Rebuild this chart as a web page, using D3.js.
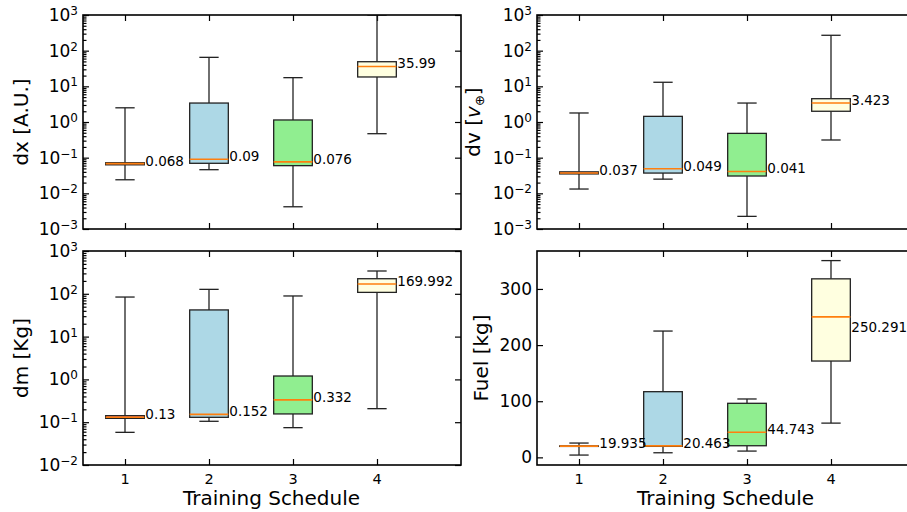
<!DOCTYPE html>
<html>
<head>
<meta charset="utf-8">
<script src="https://cdn.jsdelivr.net/npm/d3@7"></script>
<style>
  body { margin: 0; background: #fff; }
  svg { display: block; }
  text { font-family: "DejaVu Sans", sans-serif; fill: #000; }
</style>
</head>
<body>
<svg id="chart" width="907" height="512"></svg>
<script>
// Training schedules and box fills
const categories = [1, 2, 3, 4];
const xTickLabels = ["1", "2", "3", "4"];
const boxFills = ["#f08080", "#add8e6", "#90ee90", "#ffffe0"];

// Position error dx [A.U.]: whisker low, Q1, median, Q3, whisker high
const dxLow  = [0.024, 0.046, 0.0042, 0.47];
const dxQ1   = [0.063, 0.0695, 0.0597, 18.3];
const dxMed  = [0.068, 0.09, 0.076, 35.99];
const dxQ3   = [0.072, 3.4, 1.14, 49];
const dxHigh = [2.5, 65, 17.5, 1000];

// Velocity error dv [v_earth]
const dvLow  = [0.0132, 0.025, 0.00226, 0.313];
const dvQ1   = [0.035, 0.037, 0.0306, 2.0];
const dvMed  = [0.037, 0.049, 0.041, 3.423];
const dvQ3   = [0.040, 1.44, 0.48, 4.5];
const dvHigh = [1.79, 13, 3.4, 270];

// Mass error dm [Kg]
const dmLow  = [0.058, 0.105, 0.0745, 0.207];
const dmQ1   = [0.123, 0.13, 0.156, 108];
const dmMed  = [0.13, 0.152, 0.332, 169.992];
const dmQ3   = [0.142, 42, 1.2, 225];
const dmHigh = [84, 127, 89, 341];

// Fuel consumption [kg]
const fuelLow  = [4.1, 8.2, 11.2, 61];
const fuelQ1   = [19.5, 19.6, 20.7, 171.6];
const fuelMed  = [19.935, 20.463, 44.743, 250.291];
const fuelQ3   = [20.4, 117, 96.3, 318];
const fuelHigh = [25.5, 225, 104, 350.5];
const fuelLabelAt = [19.935, 20.463, 44.743, 227];

// Axis tick values
const dxExponents = [-3, -2, -1, 0, 1, 2, 3];
const dmExponents = [-2, -1, 0, 1, 2, 3];
const fuelTicks = [0, 100, 200, 300];

const svg = d3.select("#chart");
const W = 378, H = 214;
const BOX_W = 0.46;

const panels = [
  { id: "dx", left: 83, top: 15, log: true, exps: dxExponents,
    low: dxLow, q1: dxQ1, med: dxMed, q3: dxQ3, high: dxHigh,
    ylabel: "dx", ylabelX: 27.5, xLabels: false },
  { id: "dv", left: 537, top: 15, log: true, exps: dxExponents,
    low: dvLow, q1: dvQ1, med: dvMed, q3: dvQ3, high: dvHigh,
    ylabel: "dv", ylabelX: 479.5, xLabels: false },
  { id: "dm", left: 83, top: 251, log: true, exps: dmExponents,
    low: dmLow, q1: dmQ1, med: dmMed, q3: dmQ3, high: dmHigh,
    ylabel: "dm", ylabelX: 27.5, xLabels: true },
  { id: "fuel", left: 537, top: 251, log: false, linDomain: [-13.6, 367.6], ticks: fuelTicks,
    low: fuelLow, q1: fuelQ1, med: fuelMed, q3: fuelQ3, high: fuelHigh, labelAt: fuelLabelAt,
    ylabel: "fuel", ylabelX: 487.5, xLabels: true }
];

const tickStyle = sel => {
  sel.select(".domain").remove();
  sel.selectAll(".tick line").attr("stroke", "#000").attr("stroke-width", 1.2);
  sel.selectAll(".tick text").remove();
};

panels.forEach(p => {
  const g = svg.append("g");
  const x = d3.scaleLinear().domain([0.5, 5]).range([p.left, p.left + W]);
  let y;
  if (p.log) {
    const lo = p.exps[0], hi = p.exps[p.exps.length - 1];
    y = d3.scaleLog().domain([Math.pow(10, lo), Math.pow(10, hi)]).range([p.top + H, p.top]);
  } else {
    y = d3.scaleLinear().domain(p.linDomain).range([p.top + H, p.top]);
  }

  const clipId = "clip-" + p.id;
  svg.append("clipPath").attr("id", clipId)
    .append("rect").attr("x", p.left).attr("y", p.top).attr("width", W).attr("height", H);

  // major / minor tick values on y
  let majors, minors = [];
  if (p.log) {
    majors = p.exps.map(e => Math.pow(10, e));
    for (let i = 0; i < p.exps.length - 1; i++) {
      for (let m = 2; m <= 9; m++) minors.push(m * Math.pow(10, p.exps[i]));
    }
  } else {
    majors = p.ticks;
  }

  // inward ticks on all four sides
  g.append("g").attr("transform", `translate(${p.left},0)`)
    .call(d3.axisLeft(y).tickValues(majors).tickSize(-6)).call(tickStyle);
  if (minors.length) {
    g.append("g").attr("transform", `translate(${p.left},0)`)
      .call(d3.axisLeft(y).tickValues(minors).tickSize(-3.5)).call(tickStyle);
  }
  g.append("g").attr("transform", `translate(${p.left + W},0)`)
    .call(d3.axisRight(y).tickValues(majors).tickSize(-6)).call(tickStyle);
  g.append("g").attr("transform", `translate(0,${p.top})`)
    .call(d3.axisTop(x).tickValues(categories).tickSize(-6)).call(tickStyle);
  g.append("g").attr("transform", `translate(0,${p.top + H})`)
    .call(d3.axisBottom(x).tickValues(categories).tickSize(-6)).call(tickStyle);

  // y tick labels
  if (p.log) {
    p.exps.forEach(e => {
      const t = g.append("text")
        .attr("x", p.left - 5).attr("y", y(Math.pow(10, e)) + 6)
        .attr("text-anchor", "end").style("font-size", "17px");
      t.append("tspan").text("10");
      t.append("tspan").attr("dy", -6).style("font-size", "12px")
        .text(e < 0 ? "\u2212" + (-e) : String(e));
    });
  } else {
    p.ticks.forEach(v => {
      g.append("text")
        .attr("x", p.left - 5).attr("y", y(v) + 6)
        .attr("text-anchor", "end").style("font-size", "17px")
        .text(String(v));
    });
  }

  // x tick labels and axis title on the lower row
  if (p.xLabels) {
    categories.forEach((c, i) => {
      g.append("text")
        .attr("x", x(c)).attr("y", p.top + H + 19)
        .attr("text-anchor", "middle").style("font-size", "14.5px")
        .text(xTickLabels[i]);
    });
    g.append("text")
      .attr("x", p.left + W / 2 - 0.5).attr("y", p.top + H + 40)
      .attr("text-anchor", "middle").style("font-size", "20px")
      .text("Training Schedule");
  }

  // y axis title
  const yl = g.append("text")
    .attr("transform", `translate(${p.ylabelX},${p.top + H / 2}) rotate(-90)`)
    .attr("text-anchor", "middle").style("font-size", "20px");
  if (p.ylabel === "dx") yl.text("dx [A.U.]");
  else if (p.ylabel === "dm") yl.text("dm [Kg]");
  else if (p.ylabel === "fuel") yl.text("Fuel [kg]");
  else {
    yl.append("tspan").text("dv [");
    yl.append("tspan").style("font-style", "italic").text("v");
    yl.append("tspan").attr("dy", 4).style("font-size", "13px").text("\u2295");
    yl.append("tspan").attr("dy", -4).text("]");
  }

  // boxes
  const boxes = g.append("g").attr("clip-path", `url(#${clipId})`);
  const half = (x(BOX_W) - x(0)) / 2;
  categories.forEach((c, i) => {
    const cx = x(c);
    const stroke = "#222";
    // whiskers
    boxes.append("line").attr("x1", cx).attr("x2", cx)
      .attr("y1", y(p.low[i])).attr("y2", y(p.q1[i]))
      .attr("stroke", stroke).attr("stroke-width", 1.3);
    boxes.append("line").attr("x1", cx).attr("x2", cx)
      .attr("y1", y(p.q3[i])).attr("y2", y(p.high[i]))
      .attr("stroke", stroke).attr("stroke-width", 1.3);
    // caps
    [p.low[i], p.high[i]].forEach(v => {
      boxes.append("line").attr("x1", cx - half / 2).attr("x2", cx + half / 2)
        .attr("y1", y(v)).attr("y2", y(v))
        .attr("stroke", stroke).attr("stroke-width", 1.3);
    });
    // box
    boxes.append("rect")
      .attr("x", cx - half).attr("width", half * 2)
      .attr("y", y(p.q3[i])).attr("height", Math.max(0.01, y(p.q1[i]) - y(p.q3[i])))
      .attr("fill", boxFills[i]).attr("stroke", stroke).attr("stroke-width", 1.3);
    // median
    boxes.append("line").attr("x1", cx - half).attr("x2", cx + half)
      .attr("y1", y(p.med[i])).attr("y2", y(p.med[i]))
      .attr("stroke", "#ff7f0e").attr("stroke-width", 1.6);
    // median value label
    const at = p.labelAt ? p.labelAt[i] : p.med[i];
    g.append("text")
      .attr("x", cx + half + 1).attr("y", y(at) + 2)
      .style("font-size", "13.5px")
      .text(String(p.med[i]));
  });

  // frame
  g.append("rect").attr("x", p.left).attr("y", p.top).attr("width", W).attr("height", H)
    .attr("fill", "none").attr("stroke", "#000").attr("stroke-width", 1.6);
});
</script>
</body>
</html>
